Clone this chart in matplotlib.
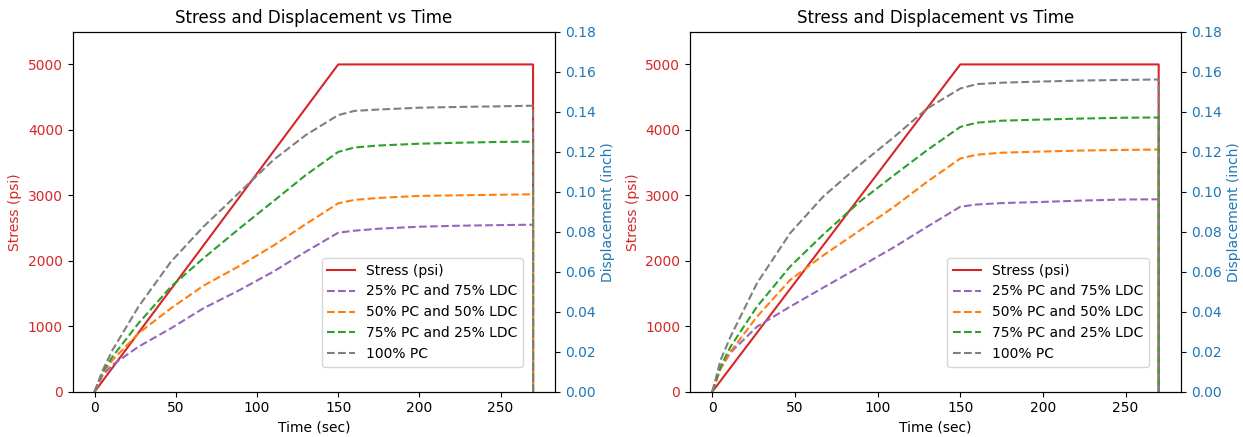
import matplotlib
matplotlib.use("Agg")
import matplotlib.pyplot as plt

# time points (sec), the last point is the unload at 270 s
time = [0, 5, 11, 27, 47, 67, 89, 110, 130, 150, 160, 175, 200, 225, 250, 270, 270]

stress_time = [0, 150, 270, 270]
stress = [0, 5000, 5000, 0]

labels = ["25% PC and 75% LDC", "50% PC and 50% LDC", "75% PC and 25% LDC", "100% PC"]
colors = ["tab:purple", "tab:orange", "tab:green", "tab:gray"]

# displacement (inch), left chart
disp_left_25 = [0, 0.0083, 0.0134, 0.0225, 0.0317, 0.0417, 0.0507, 0.0600, 0.0700, 0.0795,
                0.0805, 0.0815, 0.0825, 0.0830, 0.0833, 0.0835, 0]
disp_left_50 = [0, 0.0092, 0.0158, 0.0292, 0.0417, 0.0530, 0.0628, 0.0730, 0.0838, 0.0942,
                0.0959, 0.0969, 0.0979, 0.0982, 0.0985, 0.0987, 0]
disp_left_75 = [0, 0.0100, 0.0175, 0.0342, 0.0525, 0.0667, 0.0815, 0.0952, 0.1083, 0.1199,
                0.1221, 0.1231, 0.1240, 0.1245, 0.1249, 0.1250, 0]
disp_left_100 = [0, 0.0108, 0.0208, 0.0425, 0.0650, 0.0825, 0.0995, 0.1158, 0.1283, 0.1383,
                 0.1404, 0.1411, 0.1420, 0.1424, 0.1427, 0.1430, 0]

# displacement (inch), right chart
disp_right_25 = [0, 0.0115, 0.0196, 0.0325, 0.0425, 0.0520, 0.0623, 0.0723, 0.0825, 0.0925,
                 0.0936, 0.0943, 0.0949, 0.0956, 0.0961, 0.0962, 0]
disp_right_50 = [0, 0.0117, 0.0200, 0.0375, 0.0558, 0.0681, 0.0805, 0.0925, 0.1050, 0.1166,
                 0.1185, 0.1195, 0.1201, 0.1206, 0.1209, 0.1211, 0]
disp_right_75 = [0, 0.0125, 0.0225, 0.0425, 0.0625, 0.0785, 0.0949, 0.1083, 0.1208, 0.1324,
                 0.1345, 0.1355, 0.1361, 0.1366, 0.1370, 0.1371, 0]
disp_right_100 = [0, 0.0158, 0.0275, 0.0542, 0.0792, 0.0975, 0.1133, 0.1274, 0.1416, 0.1516,
                  0.1538, 0.1545, 0.1551, 0.1556, 0.1559, 0.1561, 0]

left_sets = [disp_left_25, disp_left_50, disp_left_75, disp_left_100]
right_sets = [disp_right_25, disp_right_50, disp_right_75, disp_right_100]


def draw_panel(ax1, disp_sets):
    ax1.plot(stress_time, stress, color="tab:red", label="Stress (psi)")
    ax1.set_xlabel("Time (sec)")
    ax1.set_ylabel("Stress (psi)", color="tab:red")
    ax1.tick_params(axis="y", labelcolor="tab:red")
    ax1.set_ylim(0, 5500)
    ax1.set_title("Stress and Displacement vs Time")

    ax2 = ax1.twinx()
    for d, lab, c in zip(disp_sets, labels, colors):
        ax2.plot(time, d, "--", color=c, label=lab)
    ax2.set_ylabel("Displacement (inch)", color="tab:blue")
    ax2.tick_params(axis="y", labelcolor="tab:blue")
    ax2.set_ylim(0, 0.18)
    ax2.set_yticks([i * 0.02 for i in range(10)])

    h1, l1 = ax1.get_legend_handles_labels()
    h2, l2 = ax2.get_legend_handles_labels()
    ax2.legend(h1 + h2, l1 + l2, loc="lower right",
               bbox_to_anchor=(0.934, 0.069), borderaxespad=0)


W, H = 1243, 437
fig = plt.figure(figsize=(W / 100, H / 100), dpi=100)

ax_left = fig.add_axes([72.7 / W, (H - 391.7) / H, 482.3 / W, 360 / H])
draw_panel(ax_left, left_sets)

ax_right = fig.add_axes([690 / W, (H - 391.7) / H, 491 / W, 360 / H])
draw_panel(ax_right, right_sets)

plt.savefig("out.png", dpi=100)
